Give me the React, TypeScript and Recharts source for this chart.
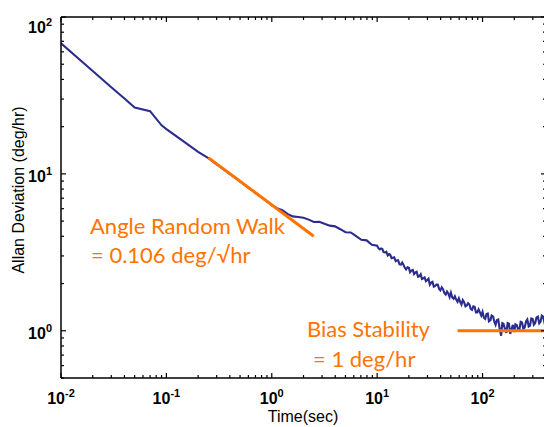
import { LineChart, Line, XAxis, YAxis } from "recharts"

// averaging time (sec) and Allan deviation (deg/hr)
const tau = [
  0.01, 0.02, 0.03, 0.04, 0.05, 0.07, 0.09, 0.1, 0.15, 0.2, 0.25, 0.3, 0.4, 0.5, 0.6, 0.7, 0.8, 0.9,
  1.0, 1.12, 1.26, 1.41, 1.58, 1.78, 2.0, 2.24, 2.51, 2.82, 3.16, 3.55, 3.98, 4.47, 5.01, 5.62, 6.31, 7.08, 7.94, 8.91,
  10.0, 10.3, 10.6, 10.9, 11.2, 11.5, 11.9, 12.2, 12.6, 13.0, 13.3, 13.7, 14.1, 14.5, 15.0, 15.4, 15.8, 16.3, 16.8, 17.3,
  17.8, 18.3, 18.8, 19.4, 20.0, 20.5, 21.1, 21.8, 22.4, 23.1, 23.7, 24.4, 25.1, 25.9, 26.6, 27.4, 28.2, 29.0, 29.9, 30.7,
  31.6, 32.6, 33.5, 34.5, 35.5, 36.5, 37.6, 38.7, 39.8, 41.0, 42.2, 43.4, 44.7, 46.0, 47.3, 48.7, 50.1, 51.6, 53.1, 54.6,
  56.2, 57.9, 59.6, 61.3, 63.1, 64.9, 66.8, 68.8, 70.8, 72.9, 75.0, 77.2, 79.4, 81.8, 84.1, 86.6, 89.1, 91.7, 94.4, 97.2,
  100, 103, 106, 109, 112, 115, 119, 122, 126, 130, 133, 137, 141, 145, 150, 154, 158, 163, 168, 173, 178, 183, 188, 194,
  200, 205, 211, 218, 224, 230, 237, 244, 251, 259, 266, 274, 282, 290, 299, 307, 316, 325, 335, 345, 355, 365, 376, 387, 398,
]
const adev = [
  68, 45.3, 35.7, 30.2, 26.5, 25.1, 20.4, 19.3, 15.9, 13.8, 12.6, 11.5, 10.0, 8.95, 8.18, 7.57, 7.08, 6.7,
  6.31, 6.05, 5.87, 5.56, 5.36, 5.31, 5.26, 5.11, 4.94, 4.95, 4.81, 4.68, 4.63, 4.44, 4.25, 4.23, 4.01, 3.8, 3.77, 3.53,
  3.48, 3.35, 3.3, 3.35, 3.32, 3.17, 3.16, 3.19, 3.02, 3.08, 3.05, 2.9, 2.92, 2.94, 2.78, 2.81, 2.82, 2.65, 2.64, 2.72,
  2.63, 2.52, 2.46, 2.54, 2.52, 2.36, 2.42, 2.44, 2.3, 2.36, 2.38, 2.21, 2.22, 2.29, 2.14, 2.16, 2.19, 2.07, 2.11, 2.15,
  1.97, 2.03, 2.05, 1.91, 1.93, 1.97, 1.97, 1.85, 1.81, 1.89, 1.84, 1.74, 1.7, 1.78, 1.73, 1.64, 1.75, 1.63, 1.6, 1.66,
  1.58, 1.53, 1.61, 1.53, 1.47, 1.57, 1.52, 1.43, 1.45, 1.5, 1.47, 1.38, 1.36, 1.43, 1.42, 1.31, 1.31, 1.37, 1.31, 1.25,
  1.32, 1.21, 1.19, 1.28, 1.29, 1.15, 1.17, 1.25, 1.23, 1.13, 1.09, 1.17, 1.18, 1.04, 0.93, 1.12, 1.11, 1.03, 0.97, 1.12, 1.11, 0.955, 1.02, 1.09,
  0.98, 1.1, 1.09, 1.015, 1.02, 1.14, 1.13, 1.03, 1.05, 1.15, 1.18, 1.065, 1.08, 1.2, 1.19, 1.095, 1.12, 1.215, 1.23, 1.115, 1.14, 1.25, 1.23, 1.125, 1.17,
]

// angle random walk fit: 0.106 deg/sqrt(hr)
const arwTau = [0.25, 2.5]
const arwDev = [12.7, 4.0]
// bias stability level: 1 deg/hr
const biasTau = [58, 400]
const biasDev = [1, 1]

const xTicks = [
  0.01, 0.02, 0.03, 0.04, 0.05, 0.06, 0.07, 0.08, 0.09,
  0.1, 0.2, 0.3, 0.4, 0.5, 0.6, 0.7, 0.8, 0.9,
  1, 2, 3, 4, 5, 6, 7, 8, 9,
  10, 20, 30, 40, 50, 60, 70, 80, 90,
  100, 200, 300, 400,
]
const yTicks = [
  0.5, 0.6, 0.7, 0.8, 0.9,
  1, 2, 3, 4, 5, 6, 7, 8, 9,
  10, 20, 30, 40, 50, 60, 70, 80, 90,
  100,
]
const xLabels: Record<number, string> = { 0.01: "-2", 0.1: "-1", 1: "0", 10: "1", 100: "2" }
const yLabels: Record<number, string> = { 1: "0", 10: "1", 100: "2" }

const data = tau.map((t, i) => ({ tau: t, adev: adev[i] }))
const arwData = arwTau.map((t, i) => ({ tau: t, adev: arwDev[i] }))
const biasData = biasTau.map((t, i) => ({ tau: t, adev: biasDev[i] }))

const W = 544
const H = 427
const ORANGE = "#FF7400"
const TICK_FONT = "'Liberation Sans', Arial, sans-serif"

const isMajor = (v: number, labels: Record<number, string>) => labels[v] !== undefined

const BottomTick = (props: any) => {
  const { x, y, payload } = props
  const v = payload.value
  const major = isMajor(v, xLabels)
  return (
    <g>
      <line x1={x} x2={x} y1={y} y2={y - (major ? 5 : 3)} stroke="#000" strokeWidth={1.2} />
      {major && (
        <text x={x} y={y + 26} textAnchor="middle" fontFamily={TICK_FONT} fontWeight="bold" fontSize={16} fill="#000">
          10<tspan dy={-7} fontSize={11}>{xLabels[v]}</tspan>
        </text>
      )}
    </g>
  )
}

const TopTick = (props: any) => {
  const { x, y, payload } = props
  const major = isMajor(payload.value, xLabels)
  return <line x1={x} x2={x} y1={y} y2={y + (major ? 5 : 3)} stroke="#000" strokeWidth={1.2} />
}

const LeftTick = (props: any) => {
  const { x, y, payload } = props
  const v = payload.value
  const major = isMajor(v, yLabels)
  const dy = v === 100 ? 16 : 8
  return (
    <g>
      <line x1={x} x2={x + (major ? 5 : 3)} y1={y} y2={y} stroke="#000" strokeWidth={1.2} />
      {major && (
        <text x={x - 9} y={y + dy} textAnchor="end" fontFamily={TICK_FONT} fontWeight="bold" fontSize={16} fill="#000">
          10<tspan dy={-7} fontSize={11}>{yLabels[v]}</tspan>
        </text>
      )}
    </g>
  )
}

const RightTick = (props: any) => {
  const { x, y, payload } = props
  const major = isMajor(payload.value, yLabels)
  return <line x1={x} x2={x - (major ? 5 : 3)} y1={y} y2={y} stroke="#000" strokeWidth={1.2} />
}

const axisLine = { stroke: "#000", strokeWidth: 1.5 }

const App = () => {
  return (
    <div style={{ position: "absolute", left: 0, top: 0, width: W, height: H, background: "#fff" }}>
      <LineChart width={W} height={H} data={data} margin={{ top: 16, right: -3, bottom: 48, left: 60 }}>
        <XAxis
          dataKey="tau"
          type="number"
          scale="log"
          domain={[0.01, 400]}
          allowDataOverflow
          ticks={xTicks}
          interval={0}
          height={1}
          tickSize={0}
          tickMargin={0}
          tickLine={false}
          axisLine={axisLine}
          tick={(p: any) => <BottomTick {...p} />}
        />
        <XAxis
          xAxisId="top"
          orientation="top"
          dataKey="tau"
          type="number"
          scale="log"
          domain={[0.01, 400]}
          allowDataOverflow
          ticks={xTicks}
          interval={0}
          height={1}
          tickSize={0}
          tickMargin={0}
          tickLine={false}
          axisLine={axisLine}
          tick={(p: any) => <TopTick {...p} />}
        />
        <YAxis
          type="number"
          scale="log"
          domain={[0.5, 100]}
          allowDataOverflow
          ticks={yTicks}
          interval={0}
          width={1}
          tickSize={0}
          tickMargin={0}
          tickLine={false}
          axisLine={axisLine}
          tick={(p: any) => <LeftTick {...p} />}
        />
        <YAxis
          yAxisId="right"
          orientation="right"
          type="number"
          scale="log"
          domain={[0.5, 100]}
          allowDataOverflow
          ticks={yTicks}
          interval={0}
          width={1}
          tickSize={0}
          tickMargin={0}
          tickLine={false}
          axisLine={axisLine}
          tick={(p: any) => <RightTick {...p} />}
        />
        <Line
          type="linear"
          dataKey="adev"
          stroke="#2B2D8E"
          strokeWidth={2.1}
          dot={false}
          isAnimationActive={false}
        />
        <Line
          data={arwData}
          dataKey="adev"
          stroke={ORANGE}
          strokeWidth={3}
          dot={false}
          isAnimationActive={false}
        />
        <Line
          data={biasData}
          xAxisId="top"
          yAxisId="right"
          dataKey="adev"
          stroke={ORANGE}
          strokeWidth={3}
          dot={false}
          isAnimationActive={false}
        />
      </LineChart>
      <svg width={W} height={H} style={{ position: "absolute", left: 0, top: 0, pointerEvents: "none" }}>
        <text x={303} y={422} textAnchor="middle" fontFamily={TICK_FONT} fontSize={16} fill="#000">
          Time(sec)
        </text>
        <text
          transform="translate(24,190) rotate(-90)"
          textAnchor="middle"
          fontFamily={TICK_FONT}
          fontSize={16}
          fill="#000"
        >
          Allan Deviation (deg/hr)
        </text>
        <g fontFamily="Lato, 'Open Sans', sans-serif" fontSize={22} fill={ORANGE}>
          <text x={90} y={234}>Angle Random Walk</text>
          <text x={91} y={263}>= 0.106 deg/√hr</text>
          <text x={307} y={337}>Bias Stability</text>
          <text x={313} y={367}>= 1 deg/hr</text>
        </g>
      </svg>
    </div>
  )
}

export default App
